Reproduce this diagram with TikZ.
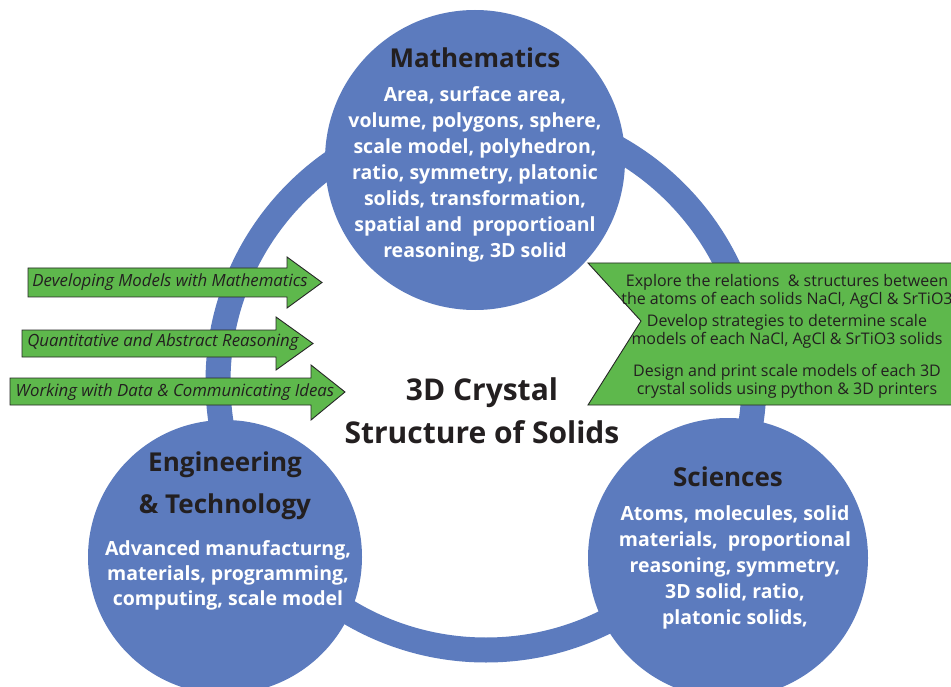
\documentclass[tikz,border=0pt]{standalone}
\usepackage{fontspec}
\setmainfont{Open Sans}
\definecolor{ringblue}{RGB}{92,123,190}
\definecolor{argreen}{RGB}{94,184,76}
\definecolor{ink}{RGB}{35,31,32}
\begin{document}
\begin{tikzpicture}[x=1pt,y=-1pt,
  disc/.style={circle, fill=ringblue, inner sep=0pt},
  headtxt/.style={font=\bfseries\fontsize{26}{42}\selectfont, text=ink, align=center, inner sep=0pt},
  bodytxt/.style={font=\bfseries\fontsize{19.5}{26}\selectfont, text=white, align=center, inner sep=0pt},
  arrowbox/.style={fill=argreen, draw=black!85, line width=0.9pt, line join=miter},
  arrowtxt/.style={font=\itshape\fontsize{16.8}{18}\selectfont, text=ink, inner sep=0pt},
  bannertxt/.style={font=\fontsize{16}{18}\selectfont, text=ink, align=center, inner sep=0pt},
  titletxt/.style={font=\bfseries\fontsize{30}{43}\selectfont, text=ink, align=center, inner sep=0pt}
]
\clip (0,0) rectangle (951,687);
\fill[white] (0,0) rectangle (951,687);
% ring
\draw[ringblue, line width=25pt] (486,382) circle[radius=268];
% discs
\node[disc, minimum size=300pt] (math) at (475,160) {};
\node[disc, minimum size=274pt] (eng) at (225,557) {};
\node[disc, minimum size=280pt] (sci) at (728,558) {};
% left arrows
\draw[arrowbox] (28,268) -- (287,268) -- (287,257) -- (322,282.5) -- (287,308) -- (287,297) -- (28,297) -- cycle;
\draw[arrowbox] (22,330) -- (276,330) -- (276,317) -- (313,343.5) -- (276,370) -- (276,357) -- (22,357) -- cycle;
\draw[arrowbox] (10,378) -- (311,378) -- (311,365) -- (345,392) -- (311,420) -- (311,405) -- (10,405) -- cycle;
\node[arrowtxt] (a1) at (170,282) {Developing Models with Mathematics};
\node[arrowtxt] (a2) at (163,342) {Quantitative and Abstract Reasoning};
\node[arrowtxt] (a3) at (175,392) {Working with Data \& Communicating Ideas};
% right banner
\draw[arrowbox] (960,263) -- (588,263) -- (641,321) -- (588,405) -- (960,405);
\node[bannertxt] (b1) at (787,291) {Explore the relations\ \ \& structures between\\the atoms of each solids NaCl, AgCl \& SrTiO3};
\node[bannertxt] (b2) at (787,331) {Develop strategies to determine scale\\models of each NaCl, AgCl \& SrTiO3 solids};
\node[bannertxt] (b3) at (787,381) {Design and print scale models of each 3D\\crystal solids using python \& 3D printers};
% texts
\node[headtxt] (mh) at (475,58) {Mathematics};
\node[bodytxt] (mb) at (475,174) {Area, surface area,\\volume, polygons, sphere,\\scale model, polyhedron,\\ratio, symmetry, platonic\\solids, transformation,\\spatial and\ \ proportioanl\\reasoning, 3D solid};
\node[headtxt] (eh) at (225,486) {Engineering\\\& Technology};
\node[bodytxt, font=\bfseries\fontsize{19.5}{25}\selectfont] (eb) at (228,575) {Advanced manufacturng,\\materials, programming,\\computing, scale model};
\node[headtxt] (sh) at (728,477) {Sciences};
\node[bodytxt] (sb) at (735,567) {Atoms, molecules, solid\\materials,\ \ proportional\\reasoning, symmetry,\\3D solid, ratio,\\platonic solids,};
\node[titletxt] (title) at (482,411) {3D Crystal\\Structure of Solids};
\end{tikzpicture}
\end{document}
